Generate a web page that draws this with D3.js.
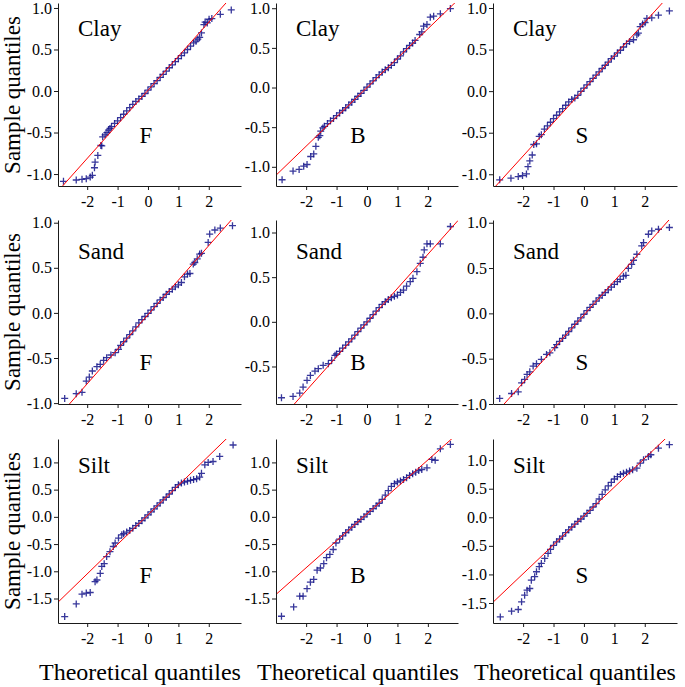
<!DOCTYPE html>
<html><head><meta charset="utf-8">
<script src="https://cdn.jsdelivr.net/npm/d3@7"></script>
<style>body{margin:0;background:#fff} svg{display:block}</style>
</head><body>
<script>
// ---- data: [theoretical quantile, sample quantile] ----
const clayF = [[-2.78,-1.088],[-2.36,-1.072],[-2.17,-1.064],[-2.03,-1.056],[-1.90,-1.036],[-1.83,-1.016],[-1.76,-0.924],[-1.74,-0.856],[-1.65,-0.776],[-1.55,-0.655],[-1.52,-0.66],[-1.49,-0.552],[-1.41,-0.528],
[-1.35,-0.50],[-1.3,-0.47],[-1.25,-0.45],[-1.2,-0.43],[-1.1,-0.39],[-1.0,-0.36],[-0.9,-0.32],[-0.8,-0.28],[-0.7,-0.24],[-0.6,-0.20],[-0.5,-0.16],[-0.4,-0.125],[-0.3,-0.095],[-0.2,-0.065],[-0.1,-0.03],[0,0.01],[0.1,0.05],[0.2,0.09],[0.3,0.125],[0.4,0.165],[0.5,0.2],[0.6,0.24],[0.7,0.28],[0.8,0.315],[0.9,0.355],[1.0,0.39],[1.1,0.425],[1.2,0.46],[1.3,0.50],[1.4,0.54],[1.5,0.58],
[1.58,0.60],[1.64,0.625],[1.70,0.645],[1.76,0.70],[1.84,0.80],[1.88,0.83],[1.95,0.82],[2.01,0.864],[2.10,0.872],[2.38,0.924],[2.74,0.977]];
const clayB = [[-2.79,-1.163],[-2.43,-1.054],[-2.23,-1.033],[-2.08,-0.992],[-1.97,-0.971],[-1.85,-0.870],[-1.75,-0.837],[-1.68,-0.741],[-1.60,-0.628],[-1.55,-0.607],[-1.52,-0.55],
[-1.45,-0.51],[-1.4,-0.49],[-1.3,-0.455],[-1.2,-0.42],[-1.1,-0.39],[-1.0,-0.355],[-0.9,-0.32],[-0.8,-0.29],[-0.7,-0.255],[-0.6,-0.22],[-0.5,-0.185],[-0.4,-0.15],[-0.3,-0.11],[-0.2,-0.075],[-0.1,-0.035],[0,0.005],[0.1,0.045],[0.2,0.085],[0.3,0.125],[0.4,0.16],[0.5,0.195],[0.6,0.225],[0.7,0.25],[0.8,0.28],[0.9,0.315],[1.0,0.36],[1.1,0.40],[1.2,0.45],[1.3,0.49],[1.4,0.53],[1.5,0.56],
[1.58,0.594],[1.73,0.669],[1.80,0.703],[1.86,0.774],[1.97,0.795],[2.08,0.887],[2.19,0.90],[2.41,0.929],[2.74,0.996]];
const clayS = [[-2.77,-1.067],[-2.40,-1.047],[-2.16,-1.028],[-2.02,-1.016],[-1.89,-0.996],[-1.84,-0.909],[-1.78,-0.839],[-1.70,-0.768],[-1.65,-0.642],[-1.56,-0.634],[-1.47,-0.543],[-1.40,-0.524],
[-1.3,-0.457],[-1.2,-0.417],[-1.1,-0.374],[-1.0,-0.33],[-0.9,-0.29],[-0.8,-0.25],[-0.7,-0.21],[-0.6,-0.17],[-0.5,-0.13],[-0.4,-0.10],[-0.3,-0.083],[-0.2,-0.05],[-0.1,-0.004],[0,0.035],[0.1,0.075],[0.2,0.114],[0.3,0.154],[0.4,0.193],[0.5,0.232],[0.6,0.272],[0.7,0.311],[0.8,0.35],[0.9,0.39],[1.0,0.421],[1.1,0.46],[1.2,0.492],[1.3,0.531],[1.4,0.571],[1.5,0.598],
[1.63,0.618],[1.74,0.677],[1.79,0.697],[1.85,0.776],[1.93,0.807],[2.01,0.823],[2.07,0.874],[2.23,0.882],[2.45,0.913],[2.81,0.965]];
const sandF = [[-2.74,-0.948],[-2.36,-0.896],[-2.17,-0.881],[-2.03,-0.756],[-1.93,-0.711],[-1.83,-0.644],[-1.68,-0.596],[-1.57,-0.570],[-1.46,-0.526],[-1.36,-0.496],[-1.22,-0.467],[-1.08,-0.441],[-0.97,-0.404],
[-0.9,-0.36],[-0.8,-0.32],[-0.7,-0.28],[-0.6,-0.24],[-0.5,-0.20],[-0.4,-0.155],[-0.3,-0.11],[-0.2,-0.075],[-0.1,-0.04],[0,-0.005],[0.1,0.03],[0.2,0.07],[0.3,0.105],[0.4,0.144],[0.5,0.17],[0.6,0.207],[0.7,0.237],[0.8,0.263],[0.9,0.289],[1.0,0.311],[1.1,0.337],[1.2,0.40],[1.3,0.43],[1.38,0.437],
[1.49,0.541],[1.54,0.559],[1.62,0.60],[1.70,0.652],[1.76,0.66],[1.98,0.781],[2.03,0.874],[2.20,0.919],[2.38,0.941],[2.78,0.967]];
const sandB = [[-2.81,-0.85],[-2.43,-0.835],[-2.21,-0.798],[-2.10,-0.730],[-1.97,-0.655],[-1.86,-0.60],[-1.71,-0.551],[-1.60,-0.524],[-1.44,-0.487],[-1.27,-0.468],[-1.16,-0.431],[-1.05,-0.375],
[-1.0,-0.36],[-0.9,-0.33],[-0.8,-0.295],[-0.7,-0.26],[-0.6,-0.225],[-0.5,-0.19],[-0.4,-0.15],[-0.3,-0.11],[-0.2,-0.07],[-0.1,-0.035],[0,0.0],[0.1,0.04],[0.2,0.08],[0.3,0.12],[0.4,0.16],[0.5,0.195],[0.6,0.225],[0.7,0.25],[0.8,0.27],[0.9,0.285],[1.0,0.30],[1.1,0.33],[1.2,0.356],[1.3,0.40],[1.42,0.449],
[1.51,0.487],[1.64,0.562],[1.75,0.655],[1.84,0.723],[1.88,0.805],[1.97,0.873],[2.08,0.873],[2.41,0.873],[2.74,1.067]];
const sandS = [[-2.77,-0.939],[-2.38,-0.884],[-2.16,-0.866],[-2.05,-0.766],[-1.95,-0.729],[-1.87,-0.674],[-1.78,-0.645],[-1.67,-0.582],[-1.56,-0.556],[-1.40,-0.508],[-1.23,-0.453],[-1.12,-0.435],[-0.96,-0.379],
[-0.9,-0.345],[-0.8,-0.31],[-0.7,-0.275],[-0.6,-0.24],[-0.5,-0.20],[-0.4,-0.16],[-0.3,-0.12],[-0.2,-0.085],[-0.1,-0.05],[0,-0.01],[0.1,0.03],[0.2,0.065],[0.3,0.10],[0.4,0.135],[0.5,0.17],[0.6,0.20],[0.7,0.23],[0.8,0.26],[0.9,0.29],[1.0,0.32],[1.1,0.35],[1.19,0.376],[1.3,0.41],[1.38,0.42],
[1.46,0.497],[1.57,0.541],[1.63,0.586],[1.74,0.652],[1.90,0.744],[1.96,0.781],[2.12,0.873],[2.23,0.91],[2.45,0.928],[2.81,0.947]];
const siltF = [[-2.74,-1.832],[-2.36,-1.60],[-2.17,-1.42],[-2.03,-1.40],[-1.90,-1.39],[-1.74,-1.19],[-1.68,-1.16],[-1.57,-1.04],[-1.52,-0.91],[-1.44,-0.86],[-1.36,-0.73],[-1.25,-0.64],[-1.14,-0.545],[-1.08,-0.48],[-0.97,-0.39],[-0.86,-0.33],
[-0.8,-0.31],[-0.7,-0.28],[-0.6,-0.25],[-0.5,-0.21],[-0.4,-0.16],[-0.3,-0.12],[-0.2,-0.07],[-0.1,-0.02],[0,0.035],[0.1,0.09],[0.2,0.145],[0.3,0.20],[0.4,0.255],[0.5,0.31],[0.6,0.36],[0.7,0.42],[0.8,0.48],[0.9,0.54],[1.0,0.59],[1.1,0.62],[1.2,0.64],[1.3,0.655],[1.4,0.67],[1.5,0.685],[1.6,0.70],[1.7,0.73],
[1.76,0.80],[1.87,0.956],[1.98,0.999],[2.14,1.017],[2.36,1.109],[2.80,1.32]];
const siltB = [[-2.81,-1.826],[-2.41,-1.654],[-2.21,-1.458],[-2.10,-1.458],[-1.97,-1.32],[-1.86,-1.20],[-1.75,-1.15],[-1.64,-0.98],[-1.53,-0.94],[-1.42,-0.86],[-1.33,-0.75],[-1.22,-0.69],[-1.11,-0.60],[-1.02,-0.48],
[-0.9,-0.41],[-0.8,-0.35],[-0.7,-0.29],[-0.6,-0.24],[-0.5,-0.19],[-0.4,-0.14],[-0.3,-0.09],[-0.2,-0.045],[-0.1,0.0],[0,0.05],[0.1,0.10],[0.2,0.15],[0.3,0.20],[0.4,0.25],[0.5,0.32],[0.6,0.40],[0.7,0.48],[0.8,0.56],[0.9,0.61],[1.0,0.64],[1.1,0.66],[1.2,0.685],[1.3,0.72],[1.4,0.76],[1.5,0.79],[1.6,0.82],[1.7,0.85],
[1.80,0.87],[1.97,0.90],[2.13,1.054],[2.24,1.04],[2.41,1.25],[2.74,1.33]];
const siltS = [[-2.75,-1.743],[-2.38,-1.643],[-2.16,-1.614],[-2.05,-1.48],[-1.95,-1.363],[-1.87,-1.275],[-1.78,-1.246],[-1.73,-1.10],[-1.62,-1.04],[-1.56,-0.953],[-1.47,-0.865],[-1.40,-0.807],[-1.29,-0.72],[-1.18,-0.632],
[-1.1,-0.56],[-1.0,-0.49],[-0.9,-0.43],[-0.8,-0.38],[-0.7,-0.33],[-0.6,-0.27],[-0.5,-0.22],[-0.4,-0.17],[-0.3,-0.12],[-0.2,-0.07],[-0.1,-0.03],[0,0.02],[0.1,0.07],[0.2,0.12],[0.3,0.18],[0.4,0.24],[0.5,0.32],[0.6,0.40],[0.7,0.48],[0.8,0.55],[0.9,0.61],[1.0,0.67],[1.1,0.71],[1.2,0.75],[1.3,0.77],[1.4,0.79],[1.5,0.81],[1.6,0.83],
[1.74,0.86],[1.85,0.947],[1.96,1.006],[2.12,1.064],[2.20,1.094],[2.45,1.21],[2.81,1.27]];

const soils = ["Clay", "Sand", "Silt"];
const methods = ["F", "B", "S"];
const series = [[clayF, clayB, clayS], [sandF, sandB, sandS], [siltF, siltB, siltS]];
const lineIntercept = [[0.008, 0.0, 0.024], [-0.02, -0.008, -0.017], [0.036, 0.055, 0.023]];
const lineSlope = [[0.41, 0.37, 0.402], [0.383, 0.382, 0.3745], [0.542, 0.495, 0.505]];
const yDomains = [[[-1.144, 1.06], [-1.242, 1.066], [-1.141, 1.06]],
                  [[-1.01, 1.03], [-0.92, 1.14], [-1.0, 1.03]],
                  [[-1.95, 1.43], [-1.95, 1.43], [-1.85, 1.37]]];
const xDomains = [[-2.96, 3.06], [-2.99, 2.99], [-2.99, 3.06]];
const yTicksA = [-1, -0.5, 0, 0.5, 1];
const yTicksB = [-0.5, 0, 0.5, 1];
const yTicksC = [-1.5, -1, -0.5, 0, 0.5, 1];
const yTicks = [[yTicksA, yTicksA, yTicksA], [yTicksA, yTicksB, yTicksA], [yTicksC, yTicksC, yTicksC]];
const xTicks = [-2, -1, 0, 1, 2];
const xTitle = "Theoretical quantiles";
const yTitle = "Sample quantiles";

// ---- layout ----
const W = 685, H = 687;
const colLeft = [58, 276, 493], colWidth = [183, 182, 184];
const rowTop = [3, 220, 439], rowH = 184;
const soilBase = [36, 259, 473];
const methodDX = [88, 82, 89];
const methodDY = [140, 150, 144];
const FONT = "'Liberation Serif', 'Times New Roman', serif";

const svg = d3.select("body").append("svg").attr("width", W).attr("height", H);
const defs = svg.append("defs");

for (let r = 0; r < 3; r++) {
  for (let c = 0; c < 3; c++) {
    const x0 = colLeft[c], y0 = rowTop[r], w = colWidth[c];
    const hgt = r === 0 ? rowH - 1 : rowH;
    const x = d3.scaleLinear().domain(xDomains[c]).range([x0, x0 + w]);
    const y = d3.scaleLinear().domain(yDomains[r][c]).range([y0 + hgt, y0]);
    const id = `clip${r}${c}`;
    defs.append("clipPath").attr("id", id).append("rect")
      .attr("x", x0).attr("y", y0).attr("width", w).attr("height", hgt);

    const g = svg.append("g");
    // points
    g.append("g").selectAll("path").data(series[r][c]).join("path")
      .attr("d", "M-3.5,0H3.5M0,-3.5V3.5")
      .attr("transform", d => `translate(${x(d[0])},${y(d[1])})`)
      .attr("stroke", "#14148a").attr("stroke-opacity", 0.85)
      .attr("stroke-width", 1.3).attr("fill", "none");
    // reference line (drawn over the points)
    const [xa, xb] = xDomains[c];
    const a = lineIntercept[r][c], b = lineSlope[r][c];
    g.append("line").attr("clip-path", `url(#${id})`)
      .attr("x1", x(xa)).attr("y1", y(a + b * xa))
      .attr("x2", x(xb)).attr("y2", y(a + b * xb))
      .attr("stroke", "#ff0000").attr("stroke-width", 1);

    // axes
    const ya = g.append("g").attr("transform", `translate(${x0},0)`)
      .call(d3.axisLeft(y).tickValues(yTicks[r][c]).tickFormat(d => d.toFixed(1))
        .tickSize(4).tickSizeOuter(0).tickPadding(2));
    const xa2 = g.append("g").attr("transform", `translate(0,${y0 + hgt})`)
      .call(d3.axisBottom(x).tickValues(xTicks).tickFormat(d => String(d))
        .tickSize(4).tickSizeOuter(0).tickPadding(6));
    [ya, xa2].forEach(ax => {
      ax.attr("font-family", FONT).attr("font-size", 16);
      ax.selectAll("text").attr("fill", "#000");
      ax.selectAll("line,path").attr("stroke", "#1a1a1a");
    });

    // labels
    g.append("text").attr("x", x0 + 20).attr("y", soilBase[r])
      .attr("font-family", FONT).attr("font-size", 23).text(soils[r]);
    g.append("text").attr("x", x0 + methodDX[c]).attr("y", y0 + methodDY[r])
      .attr("text-anchor", "middle").attr("font-family", FONT).attr("font-size", 23)
      .text(methods[c]);
  }
  svg.append("text")
    .attr("transform", `translate(20,${rowTop[r] + rowH / 2}) rotate(-90)`)
    .attr("text-anchor", "middle").attr("font-family", FONT).attr("font-size", 23)
    .text(yTitle);
}
for (let c = 0; c < 3; c++) {
  svg.append("text").attr("x", colLeft[c] + 82).attr("y", 680)
    .attr("text-anchor", "middle").attr("font-family", FONT).attr("font-size", 24)
    .text(xTitle);
}
</script>
</body></html>
